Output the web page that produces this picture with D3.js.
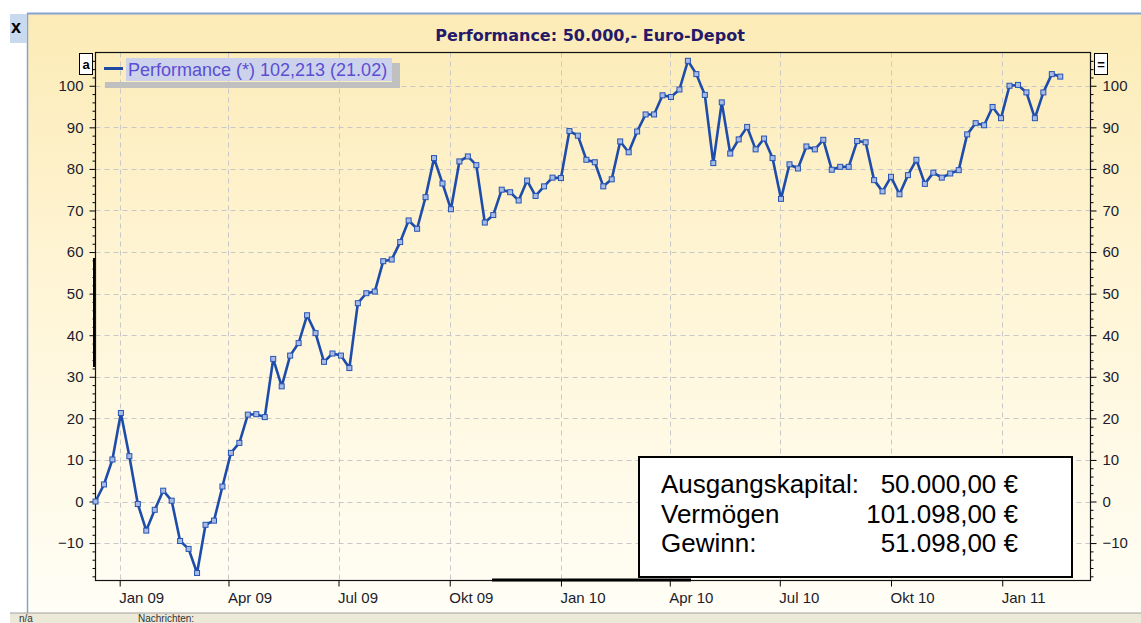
<!DOCTYPE html>
<html>
<head>
<meta charset="utf-8">
<script src="https://cdn.jsdelivr.net/npm/d3@7"></script>
<style>
  body { margin: 0; background: #fff; }
  svg { display: block; font-family: "Liberation Sans", Arial, sans-serif; }
</style>
</head>
<body>
<svg id="chart" width="1141" height="623"></svg>
<script>
// weekly performance values (%), first week ending 12.12.2008
const perfValues = [
  0.0, 4.1, 10.1, 21.3, 10.9, -0.6, -7.0, -2.0, 2.6, 0.2,
  -9.5, -11.4, -17.2, -5.6, -4.6, 3.6, 11.7, 14.1, 20.9, 21.0,
  20.3, 34.3, 27.7, 35.1, 38.1, 44.8, 40.5, 33.6, 35.6, 35.1,
  32.1, 47.7, 50.1, 50.5, 57.8, 58.2, 62.4, 67.6, 65.6, 73.2,
  82.6, 76.5, 70.3, 81.8, 83.0, 80.9, 67.1, 68.9, 75.0, 74.4,
  72.4, 77.2, 73.5, 75.8, 77.9, 77.8, 89.1, 88.0, 82.2, 81.6,
  75.8, 77.5, 86.6, 84.0, 89.0, 93.1, 93.1, 97.7, 97.3, 99.1,
  106.0, 102.8, 97.8, 81.4, 96.0, 83.7, 87.1, 90.1, 84.7, 87.3,
  82.6, 72.8, 81.1, 80.1, 85.4, 84.7, 87.0, 79.8, 80.5, 80.5,
  86.7, 86.4, 77.3, 74.6, 78.1, 73.9, 78.5, 82.2, 76.4, 79.1,
  77.9, 78.9, 79.7, 88.3, 91.0, 90.5, 94.9, 92.2, 100.0, 100.2,
  98.4, 92.2, 98.4, 102.8, 102.2
];
const firstWeek = new Date(2008, 11, 12);
const xTickLabels = ["Jan 09", "Apr 09", "Jul 09", "Okt 09", "Jan 10", "Apr 10", "Jul 10", "Okt 10", "Jan 11"];
const yTicks = [-10, 0, 10, 20, 30, 40, 50, 60, 70, 80, 90, 100];
const titleText = "Performance: 50.000,- Euro-Depot";
const legendText = "Performance (*) 102,213 (21.02)";
const infoLabels = ["Ausgangskapital:", "Vermögen", "Gewinn:"];
const infoValues = ["50.000,00 €", "101.098,00 €", "51.098,00 €"];

const svg = d3.select("#chart");
const W = 1141, H = 623;
const plot = { left: 95.5, right: 1090.5, top: 52.5, bottom: 580.5 };

const data = perfValues.map((v, i) => ({ date: d3.timeDay.offset(firstWeek, 7 * i), value: v }));
const tickDates = d3.timeMonth.every(3).range(new Date(2009, 0, 1), new Date(2011, 1, 1));

const x = d3.scaleTime()
  .domain([new Date(2008, 11, 12), new Date(2011, 2, 15)])
  .range([plot.left, plot.right]);
const y = d3.scaleLinear()
  .domain([-19, 108])
  .range([plot.bottom, plot.top]);

// background panel
const defs = svg.append("defs");
const grad = defs.append("linearGradient").attr("id", "bg").attr("x1", 0).attr("y1", 0).attr("x2", 0).attr("y2", 1);
grad.append("stop").attr("offset", "0%").attr("stop-color", "#fcebb6");
grad.append("stop").attr("offset", "45%").attr("stop-color", "#fff5d6");
grad.append("stop").attr("offset", "100%").attr("stop-color", "#fffef6");

svg.append("rect").attr("x", 27).attr("y", 13).attr("width", W - 27).attr("height", 600).attr("fill", "url(#bg)");
svg.append("line").attr("x1", 27).attr("x2", W).attr("y1", 13.5).attr("y2", 13.5).attr("stroke", "#86a3cf").attr("stroke-width", 2);
svg.append("line").attr("x1", 27.5).attr("x2", 27.5).attr("y1", 13).attr("y2", 613).attr("stroke", "#86a3cf").attr("stroke-width", 1.5);
svg.append("rect").attr("x", 10).attr("y", 14).attr("width", 17).attr("height", 29).attr("fill", "#c9d9ee");
svg.append("text").attr("x", 16).attr("y", 33).attr("text-anchor", "middle")
  .attr("font-size", 18).attr("font-weight", "bold").attr("fill", "#000").text("x");

// bottom status strip
svg.append("rect").attr("x", 10).attr("y", 613).attr("width", W - 10).attr("height", 10).attr("fill", "#ece9d8");
svg.append("line").attr("x1", 10).attr("x2", W).attr("y1", 613).attr("y2", 613).attr("stroke", "#a0a0a0");
svg.append("text").attr("x", 19).attr("y", 622).attr("font-size", 10).attr("fill", "#333").text("n/a");
svg.append("text").attr("x", 138).attr("y", 622).attr("font-size", 10).attr("fill", "#333").text("Nachrichten:");

// title
svg.append("text")
  .attr("x", 590).attr("y", 41)
  .attr("text-anchor", "middle")
  .attr("font-family", "'DejaVu Sans', Verdana, sans-serif")
  .attr("font-size", 16).attr("font-weight", "bold")
  .attr("fill", "#241a68")
  .text(titleText);

// grid
const g = svg.append("g");
g.selectAll(".hgrid").data(yTicks).enter().append("line")
  .attr("x1", plot.left).attr("x2", plot.right)
  .attr("y1", d => Math.round(y(d)) + 0.5).attr("y2", d => Math.round(y(d)) + 0.5)
  .attr("stroke", "#c8c8c8").attr("stroke-dasharray", "5,4");
g.selectAll(".vgrid").data(tickDates).enter().append("line")
  .attr("x1", d => Math.round(x(d)) + 0.5).attr("x2", d => Math.round(x(d)) + 0.5)
  .attr("y1", plot.top).attr("y2", plot.bottom)
  .attr("stroke", "#c8c8c8").attr("stroke-dasharray", "5,4");

// axes
const minorTicks = d3.range(-18, 107, 2).filter(d => d % 10 !== 0);
function styleAxis(sel) {
  sel.select(".domain").remove();
  sel.selectAll("text").attr("font-size", 15).attr("fill", "#1c1c2c").attr("font-family", "'Liberation Sans', Arial, sans-serif");
  sel.selectAll("line").attr("stroke", "#000");
}
svg.append("g").attr("transform", `translate(${plot.left},0)`)
  .call(d3.axisLeft(y).tickValues(yTicks).tickSize(6).tickPadding(6))
  .call(styleAxis);
svg.append("g").attr("transform", `translate(${plot.left},0)`)
  .call(d3.axisLeft(y).tickValues(minorTicks).tickSize(3).tickFormat(""))
  .call(styleAxis);
svg.append("g").attr("transform", `translate(${plot.right},0)`)
  .call(d3.axisRight(y).tickValues(yTicks).tickSize(6).tickPadding(6))
  .call(styleAxis);
svg.append("g").attr("transform", `translate(${plot.right},0)`)
  .call(d3.axisRight(y).tickValues(minorTicks).tickSize(3).tickFormat(""))
  .call(styleAxis);

const xAxis = svg.append("g").attr("transform", `translate(0,${plot.bottom})`)
  .call(d3.axisBottom(x).tickValues(tickDates).tickSize(6).tickFormat((d, i) => xTickLabels[i]))
  .call(styleAxis);
xAxis.selectAll("text").attr("text-anchor", "start").attr("dx", -1).attr("y", 12);

// plot frame and scroll markers
svg.append("rect")
  .attr("x", plot.left).attr("y", plot.top)
  .attr("width", plot.right - plot.left).attr("height", plot.bottom - plot.top)
  .attr("fill", "none").attr("stroke", "#111").attr("stroke-width", 1.2);
svg.append("line").attr("x1", 94).attr("x2", 94).attr("y1", 258).attr("y2", 367).attr("stroke", "#000").attr("stroke-width", 2);
svg.append("line").attr("x1", 492).attr("x2", 691).attr("y1", 580).attr("y2", 580).attr("stroke", "#000").attr("stroke-width", 3);

// series
const line = d3.line().x(d => x(d.date)).y(d => y(d.value));
svg.append("path").datum(data)
  .attr("fill", "none").attr("stroke", "#1d4cab").attr("stroke-width", 2.6)
  .attr("stroke-linejoin", "round")
  .attr("d", line);
svg.selectAll(".pt").data(data).enter().append("rect")
  .attr("x", d => x(d.date) - 2.5).attr("y", d => y(d.value) - 2.5)
  .attr("width", 5).attr("height", 5)
  .attr("fill", "#a7bbe6").attr("stroke", "#2553b3").attr("stroke-width", 1);

// legend
svg.append("rect").attr("x", 105).attr("y", 82).attr("width", 295).attr("height", 6).attr("fill", "#c0c0c0");
svg.append("rect").attr("x", 392).attr("y", 63).attr("width", 8).attr("height", 25).attr("fill", "#c0c0c0");
svg.append("rect").attr("x", 126).attr("y", 58).attr("width", 266).attr("height", 23).attr("fill", "#cdd2ec");
svg.append("line").attr("x1", 104).attr("x2", 123).attr("y1", 68.5).attr("y2", 68.5).attr("stroke", "#1f4aa3").attr("stroke-width", 3);
svg.append("text").attr("x", 128).attr("y", 76).attr("font-size", 18).attr("fill", "#5a4ed2").text(legendText);

// corner boxes
[[79, "a"], [1094, "="]].forEach(([bx, t]) => {
  svg.append("rect").attr("x", bx + 0.5).attr("y", 53.5).attr("width", 13).attr("height", 21)
    .attr("fill", "#fff").attr("stroke", "#000");
  svg.append("text").attr("x", bx + 7).attr("y", 69).attr("text-anchor", "middle")
    .attr("font-size", 13).attr("font-weight", "bold").attr("fill", "#000").text(t);
});

// info box
svg.append("rect").attr("x", 639).attr("y", 457).attr("width", 433).attr("height", 120)
  .attr("fill", "#fff").attr("stroke", "#000").attr("stroke-width", 2);
const baselines = [493, 522.5, 551.5];
infoLabels.forEach((t, i) => {
  svg.append("text").attr("x", 661).attr("y", baselines[i]).attr("font-size", 26).attr("fill", "#000").text(t);
  svg.append("text").attr("x", 1018).attr("y", baselines[i]).attr("text-anchor", "end")
    .attr("font-size", 26).attr("fill", "#000").text(infoValues[i]);
});
</script>
</body>
</html>
